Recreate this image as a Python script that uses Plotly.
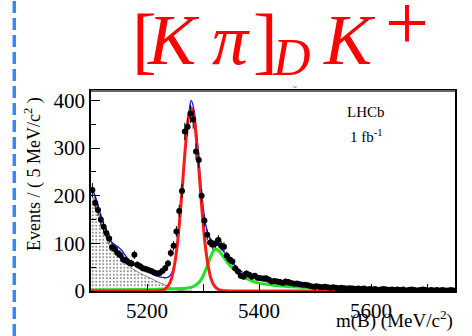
import numpy as np
import plotly.graph_objects as go

# ---- binned data: m(B) bin centres (5 MeV bins) and event counts ----
bin_lo, bin_hi, bin_w = 5100, 5750, 5
mass = np.arange(bin_lo + bin_w / 2, bin_hi, bin_w)
counts = [
    212, 185, 170, 150, 135, 122, 110, 92, 88, 80,
    75, 66, 64, 60, 58, 76, 55, 52, 48, 46,
    44, 42, 39, 37, 38, 42, 48, 58, 80, 95,
    125, 168, 210, 335, 345, 372, 360, 293, 275, 200,
    148, 118, 102, 97, 100, 107, 95, 93, 74, 66,
    62, 48, 41, 32, 30, 37, 34, 30, 32, 28,
    27, 26, 27, 24, 20, 21, 20, 19, 17, 20,
    19, 17, 15, 16, 14, 13, 13, 12, 10, 9,
    10, 9, 8, 9, 8, 7, 8, 7, 6, 7,
    6, 5, 6, 5, 4, 5, 4, 5, 3, 4,
    3, 4, 2, 3, 4, 3, 2, 3, 2, 3,
    2, 3, 1, 2, 3, 2, 1, 2, 3, 2,
    1, 2, 1, 2, 1, 2, 1, 1, 2, 1,
]
errors = np.sqrt(counts)

# ---- fit components, tabulated at knots in m(B) ----
total_m = [5100, 5105, 5110, 5115, 5120, 5125, 5130, 5135, 5140, 5145,
           5150, 5155, 5160, 5165, 5170, 5175, 5180, 5185, 5190, 5195,
           5200, 5205, 5210, 5215, 5220, 5225, 5230, 5235, 5240, 5245,
           5250, 5255, 5260, 5265, 5270, 5275, 5279, 5284, 5289, 5294,
           5299, 5304, 5309, 5314, 5319, 5324, 5329, 5334, 5339, 5344,
           5349, 5354, 5360, 5370, 5380, 5390, 5400, 5420, 5440, 5460,
           5480, 5500, 5550, 5600, 5650, 5700, 5750]
total_v = [216, 206, 190, 168, 149, 131, 116, 105, 99, 95,
           91, 85, 77, 69, 62, 57, 53, 50, 47, 44,
           42, 39, 36, 33, 31, 29, 28, 28, 31, 40,
           62, 103, 166, 244, 318, 376, 400, 380, 325, 255,
           190, 145, 120, 108, 104, 100, 94, 87, 80, 73,
           65, 58, 50, 40, 33, 28, 24, 18, 14.5, 12,
           10, 8.5, 5.5, 3.5, 2.5, 2, 1.5]

signal_m = [5100, 5200, 5219, 5224, 5229, 5234, 5239, 5244, 5249, 5254,
            5259, 5264, 5269, 5274, 5279, 5284, 5289, 5294, 5299, 5304,
            5309, 5314, 5319, 5324, 5329, 5334, 5339, 5360, 5750]
signal_v = [0, 0, 0.4, 1, 2.5, 6, 13, 27, 54, 96,
            158, 234, 308, 364, 385, 364, 308, 234, 158, 96,
            54, 27, 13, 6, 2.5, 1, 0.4, 0, 0]

misid_m = [5100, 5150, 5200, 5240, 5260, 5270, 5280, 5285, 5290, 5295,
           5300, 5305, 5310, 5315, 5320, 5325, 5330, 5335, 5340, 5345,
           5350, 5360, 5370, 5380, 5390, 5400, 5420, 5440, 5460, 5480,
           5500, 5550, 5600, 5650, 5700, 5750]
misid_v = [2, 2.5, 3, 4, 5, 6, 8, 11, 15, 21,
           31, 45, 61, 76, 86, 87, 82, 74, 66, 58,
           51, 40, 31, 25, 20, 16.5, 13, 10.5, 9, 7.5,
           6.2, 4, 2.7, 1.9, 1.4, 1]

partreco_m = [5100, 5105, 5110, 5115, 5120, 5125, 5130, 5135, 5140, 5145,
              5150, 5155, 5160, 5165, 5170, 5175, 5180, 5185, 5190, 5195,
              5200, 5205, 5210, 5215, 5220, 5225, 5230, 5235, 5240, 5245,
              5250, 5255, 5260, 5270, 5280]
partreco_v = [203, 193, 178, 156, 137, 118, 102, 91, 84, 80,
              77, 71, 64, 56, 50, 46, 42, 39, 36, 33,
              30, 27, 24, 21, 18, 16, 14, 11, 8, 5,
              3, 1.5, 0.8, 0.2, 0]

x_ticks = [5200, 5400, 5600]
y_ticks = [0, 100, 200, 300, 400]

SERIF = "Liberation Serif"

fig = go.Figure()

# partially reconstructed background, stippled fill
fig.add_trace(go.Scatter(
    x=partreco_m, y=partreco_v, mode="lines", line=dict(color="#333333", width=0.6),
    fill="tozeroy", fillcolor="white",
    fillpattern=dict(shape=".", fgcolor="#111111", bgcolor="white", size=3.5, solidity=0.25),
    hoverinfo="skip", showlegend=False))

# misidentified B -> D pi
fig.add_trace(go.Scatter(
    x=misid_m, y=misid_v, mode="lines", line=dict(color="#22e022", width=3, shape="spline"),
    showlegend=False))

# total fit
fig.add_trace(go.Scatter(
    x=total_m, y=total_v, mode="lines", line=dict(color="#1a1aff", width=1.4, shape="spline"),
    showlegend=False))

# signal
fig.add_trace(go.Scatter(
    x=signal_m, y=signal_v, mode="lines", line=dict(color="#ff1a1a", width=3, shape="spline"),
    showlegend=False))

# data points
fig.add_trace(go.Scatter(
    x=mass, y=counts, mode="markers",
    marker=dict(color="black", size=6),
    error_y=dict(type="data", array=errors, color="black", thickness=1, width=0),
    showlegend=False))

L, R, T, B = 91, 17, 91, 45
W, H = 472, 336
pw, ph = W - L - R, H - T - B

def px(xp):
    return (xp - L) / pw

def py(yp):
    return (H - B - yp) / ph

fig.update_layout(
    width=W, height=H,
    margin=dict(l=L, r=R, t=T, b=B, pad=0),
    paper_bgcolor="white", plot_bgcolor="white",
    font=dict(family=SERIF, color="black", size=20),
    xaxis=dict(
        range=[bin_lo, bin_hi], tickvals=x_ticks, ticks="inside", ticklen=7,
        tickwidth=1, tickcolor="black",
        minor=dict(dtick=100, ticks="inside", ticklen=7, tickcolor="black"),
        showline=True, linecolor="black", linewidth=1.5, mirror=True,
        showgrid=False, zeroline=False,
        tickfont=dict(size=21, family=SERIF, color="black"),
    ),
    yaxis=dict(
        range=[0, 420], tickvals=y_ticks, ticks="inside", ticklen=9,
        tickwidth=1, tickcolor="black",
        minor=dict(dtick=50, ticks="inside", ticklen=5, tickcolor="black"),
        showline=True, linecolor="black", linewidth=1.5, mirror=True,
        showgrid=False, zeroline=False,
        tickfont=dict(size=21, family=SERIF, color="black"),
    ),
)

RED = "#ff0000"

def glyph(text, xl, yc, size, italic=True):
    return dict(text=f"<i>{text}</i>" if italic else text,
                x=px(xl), y=py(yc), xref="paper", yref="paper",
                xanchor="left", yanchor="middle", showarrow=False,
                font=dict(family=SERIF, size=size, color=RED))

# decay-mode heading: [K pi]_D K^+
heading = [
    glyph("[", 130, 40, 74, italic=False),
    glyph("K", 145, 40, 72),
    glyph("π", 210, 40, 72),
    glyph("]", 251, 40, 74, italic=False),
    glyph("D", 270, 57, 52),
    glyph("K", 321, 40, 72),
    glyph("+", 383, 23, 78, italic=False),
]

labels = [
    dict(text="Events / ( 5 MeV/c<sup>2</sup> )", x=px(33), y=py(174),
         xref="paper", yref="paper", xanchor="center", yanchor="middle",
         textangle=-90, showarrow=False, font=dict(family=SERIF, size=18, color="black")),
    dict(text="m(B) (MeV/c<sup>2</sup>)", x=1.0, y=py(319),
         xref="paper", yref="paper", xanchor="right", yanchor="middle",
         showarrow=False, font=dict(family=SERIF, size=19, color="black")),
    dict(text="LHCb", x=px(366), y=py(112), xref="paper", yref="paper",
         xanchor="center", yanchor="middle", showarrow=False,
         font=dict(family=SERIF, size=15, color="black")),
    dict(text="1 fb<sup>-1</sup>", x=px(366), y=py(136), xref="paper", yref="paper",
         xanchor="center", yanchor="middle", showarrow=False,
         font=dict(family=SERIF, size=15, color="black")),
    dict(text="~", x=px(295), y=py(87), xref="paper", yref="paper",
         xanchor="center", yanchor="middle", showarrow=False,
         font=dict(family=SERIF, size=7, color="black")),
]
fig.update_layout(annotations=heading + labels)

# gray top edge of the frame
fig.add_shape(type="line", xref="paper", yref="paper", x0=0, x1=1, y0=1, y1=1,
              line=dict(color="#666666", width=2))

# dashed blue divider on the left edge of the panel
fig.add_shape(type="line", xref="paper", yref="paper",
              x0=px(14.3), x1=px(14.3), y0=py(H), y1=py(0),
              line=dict(color="#3d85f0", width=3.5, dash="12px,5px"))

fig.write_html("out.html")
